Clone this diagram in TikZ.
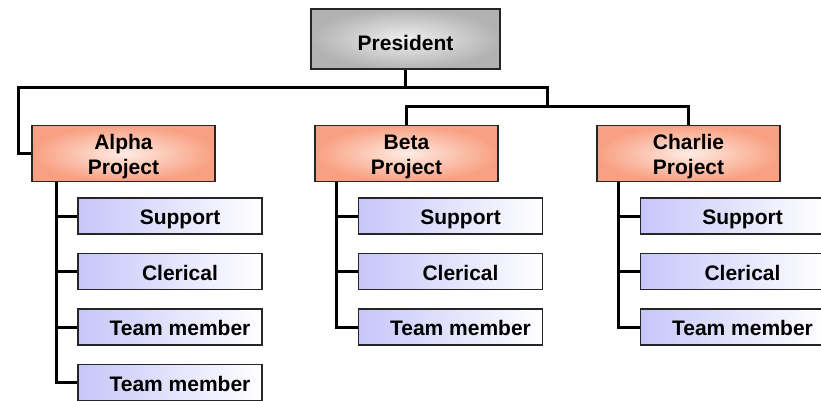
\documentclass[tikz,border=0pt]{standalone}
\usepackage{fontspec}
\setmainfont{Liberation Sans}
\usetikzlibrary{positioning}

\definecolor{salmon}{RGB}{248,160,130}
\definecolor{blush}{RGB}{255,236,228}
\definecolor{lavender}{RGB}{198,198,250}

\begin{document}
\begin{tikzpicture}[x=1pt,y=-1pt,node distance=55.5pt,on grid,
    font=\fontsize{21}{25}\selectfont\bfseries]
       \tikzstyle{box}=[draw=black!85,line width=1.3pt,align=center,inner sep=0pt]
       \tikzstyle{head}=[box,minimum width=189pt,minimum height=60pt,
         text height=23.5pt,text depth=0pt,
         inner color=gray!12,outer color=gray!60]
       \tikzstyle{project}=[box,minimum width=183pt,minimum height=56pt,
         text height=45.5pt,text depth=4.4pt,
         inner color=blush,outer color=salmon]
       \tikzstyle{member}=[box,minimum width=184pt,minimum height=36pt,
         text height=21.5pt,text depth=4.4pt,
         left color=lavender,right color=white,
         execute at begin node=\hspace*{20pt}]
       \tikzstyle{conn}=[line width=3pt]

       \useasboundingbox (0,0) rectangle (821,401);

       \node[head] (pres) at (405.5,39) {President};

       \node[project] (alpha) at (123.5,153.5) {Alpha\\Project};
       \node[project] (beta) [right=283pt of alpha] {Beta\\Project};
       \node[project] (charlie) [right=282pt of beta] {Charlie\\Project};

       \node[member] (a1) [below right=62.5pt and 46.5pt of alpha] {Support};
       \node[member] (a2) [below=of a1] {Clerical};
       \node[member] (a3) [below=of a2] {Team member};
       \node[member,execute at begin node=] (a4) [below=of a3] {Team member};

       \node[member] (b1) [below right=62.5pt and 44pt of beta] {Support};
       \node[member] (b2) [below=of b1] {Clerical};
       \node[member] (b3) [below=of b2] {Team member};

       \node[member] (c1) [below right=62.5pt and 44pt of charlie] {Support};
       \node[member] (c2) [below=of c1] {Clerical};
       \node[member] (c3) [below=of c2] {Team member};

       \coordinate (bus1) at (18,88);
       \coordinate (bus2) at (547,88);
       \coordinate (bus3) at (547,107);

       \draw[conn] (pres.south) -- (pres.south |- bus1);
       \draw[conn] (alpha.west) -| (bus1) -- (bus2) |- (beta.north |- bus3) -- (beta.north);
       \draw[conn] (bus3) -| (charlie.north);

       \foreach \c in {a1,a2,a3,a4}
         \draw[conn] ([xshift=25pt]alpha.south west) |- (\c.west);
       \foreach \c in {b1,b2,b3}
         \draw[conn] ([xshift=22pt]beta.south west) |- (\c.west);
       \foreach \c in {c1,c2,c3}
         \draw[conn] ([xshift=22pt]charlie.south west) |- (\c.west);
\end{tikzpicture}
\end{document}
